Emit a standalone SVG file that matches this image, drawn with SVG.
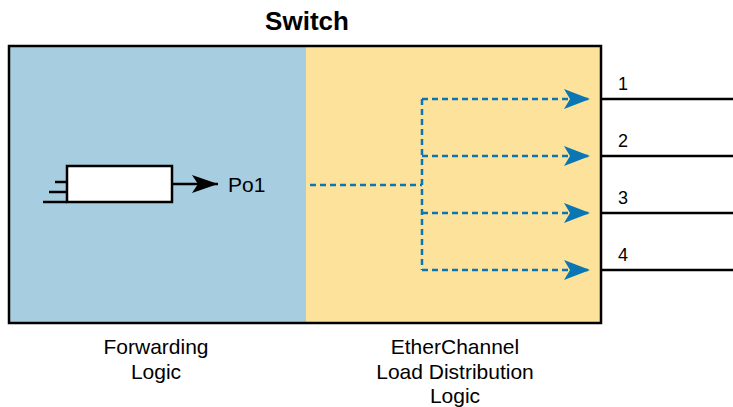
<svg xmlns="http://www.w3.org/2000/svg" width="733" height="407" viewBox="0 0 733 407">
<defs>
<style>
.lbl{font-family:"Liberation Sans",Arial,sans-serif;font-size:21px;fill:#000}
.num{font-family:"Liberation Sans",Arial,sans-serif;font-size:18px;fill:#000}
.dash{fill:none;stroke:#0a76b4;stroke-width:2.5;stroke-dasharray:6,4}
.blk{stroke:#000;stroke-width:2.5;fill:none}
</style>
<marker id="ba" viewBox="0 0 26 20" refX="26" refY="10" markerWidth="26" markerHeight="20" markerUnits="userSpaceOnUse" orient="auto">
<path d="M0,0 L26,10 L0,20 L6,10 Z" fill="#0a76b4"/>
</marker>
<marker id="ka" viewBox="0 0 26 18" refX="26" refY="9" markerWidth="26" markerHeight="18" markerUnits="userSpaceOnUse" orient="auto">
<path d="M0,0 L26,9 L0,18 L6,9 Z" fill="#000"/>
</marker>
</defs>
<rect width="733" height="407" fill="#fff"/>
<g id="switch">
<rect x="9" y="46" width="297" height="277" fill="#a7cde1"/>
<rect x="306" y="46" width="295" height="277" fill="#fde29b"/>
<rect x="9" y="46" width="592" height="277" fill="none" stroke="#000" stroke-width="2.5"/>
<text x="307" y="30" text-anchor="middle" style="font-family:'Liberation Sans',Arial,sans-serif;font-size:26px;font-weight:bold">Switch</text>
</g>
<g id="forwarding">
<rect x="67" y="166" width="105" height="36" fill="#fff" stroke="#000" stroke-width="2.5"/>
<line x1="55" y1="182" x2="67" y2="182" class="blk"/>
<line x1="49" y1="192" x2="67" y2="192" class="blk"/>
<line x1="43" y1="202" x2="67" y2="202" class="blk"/>
<text x="228" y="192" class="lbl">Po1</text>
<text x="156" y="354" text-anchor="middle" class="lbl">Forwarding</text>
<text x="156" y="379" text-anchor="middle" class="lbl">Logic</text>
</g>
<g id="distribution">
<text x="455" y="354" text-anchor="middle" class="lbl">EtherChannel</text>
<text x="455" y="379" text-anchor="middle" class="lbl">Load Distribution</text>
<text x="455" y="403" text-anchor="middle" class="lbl">Logic</text>
</g>
<g id="links">
<line x1="601" y1="99" x2="733" y2="99" class="blk"/>
<line x1="601" y1="156" x2="733" y2="156" class="blk"/>
<line x1="601" y1="213" x2="733" y2="213" class="blk"/>
<line x1="601" y1="270" x2="733" y2="270" class="blk"/>
<text x="618" y="90" class="num">1</text>
<text x="618" y="147" class="num">2</text>
<text x="618" y="204" class="num">3</text>
<text x="618" y="261" class="num">4</text>
</g>
<g id="connectors">
<line x1="172" y1="184" x2="218" y2="184" stroke="#000" stroke-width="2.5" marker-end="url(#ka)"/>
<path d="M310,185 H422" class="dash"/>
<path d="M422,99 V270" class="dash"/>
<path d="M422,99 H590" class="dash" marker-end="url(#ba)"/>
<path d="M422,156 H590" class="dash" marker-end="url(#ba)"/>
<path d="M422,213 H590" class="dash" marker-end="url(#ba)"/>
<path d="M422,270 H590" class="dash" marker-end="url(#ba)"/>
</g>
</svg>
